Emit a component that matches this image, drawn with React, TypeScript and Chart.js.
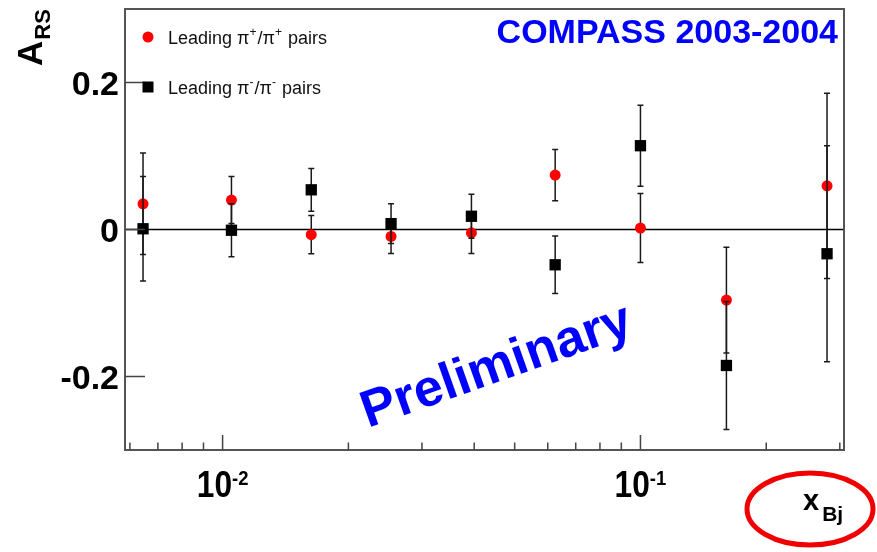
import React, { useEffect, useRef } from "react";
import { Chart, registerables } from "chart.js";

Chart.register(...registerables);

// ---- data ----
const xBj = [0.00645, 0.0105, 0.0163, 0.0253, 0.0394, 0.0625, 0.1, 0.1606, 0.2796];
const plusA = [0.035, 0.04, -0.007, -0.0095, -0.0045, 0.074, 0.002, -0.096, 0.0595];
const plusErr = [0.069, 0.032, 0.026, 0.023, 0.028, 0.035, 0.047, 0.072, 0.126];
const minusA = [0.001, -0.001, 0.054, 0.008, 0.018, -0.048, 0.114, -0.185, -0.033];
const minusErr = [0.071, 0.036, 0.029, 0.027, 0.03, 0.039, 0.055, 0.087, 0.147];

const yTicks = [-0.2, 0, 0.2];
const xMajorTicks = [0.01, 0.1];
const xMajorExp = ["-2", "-1"];
const xMinorTicks = [0.006, 0.007, 0.008, 0.009, 0.02, 0.03, 0.04, 0.05, 0.06, 0.07, 0.08, 0.09, 0.2, 0.3];
const X_MIN = 0.00584;
const X_MAX = 0.307;
const Y_MIN = -0.3;
const Y_MAX = 0.3;

const titleText = "COMPASS 2003-2004";
const watermark = "Preliminary";
const legendPlus = [
  { t: "Leading π", sup: false },
  { t: "+", sup: true },
  { t: "/π", sup: false },
  { t: "+", sup: true },
  { t: " pairs", sup: false },
];
const legendMinus = [
  { t: "Leading π", sup: false },
  { t: "-", sup: true },
  { t: "/π", sup: false },
  { t: "-", sup: true },
  { t: " pairs", sup: false },
];

const FONT = '"Liberation Sans", Arial, Helvetica, sans-serif';
const BLUE = "#0000ff";

function drawRich(ctx: CanvasRenderingContext2D, segs: { t: string; sup: boolean }[], x: number, y: number, size: number) {
  let cx = x;
  ctx.textAlign = "left";
  ctx.textBaseline = "alphabetic";
  for (const s of segs) {
    ctx.font = s.sup ? `${Math.round(size * 0.65)}px ${FONT}` : `${size}px ${FONT}`;
    ctx.fillText(s.t, cx, s.sup ? y - size * 0.42 : y);
    cx += ctx.measureText(s.t).width + (s.sup ? 1 : 0);
  }
}

const errorMap: Record<number, number[]> = { 0: plusErr, 1: minusErr };

const rootPlugin = {
  id: "rootStyle",
  beforeDatasetsDraw(chart: any) {
    const { ctx, chartArea } = chart;
    const ys = chart.scales.y;
    const y0 = ys.getPixelForValue(0);
    ctx.save();
    ctx.strokeStyle = "#000";
    ctx.lineWidth = 1.5;
    ctx.beginPath();
    ctx.moveTo(chartArea.left, y0);
    ctx.lineTo(chartArea.right, y0);
    ctx.stroke();
    ctx.restore();
  },
  beforeDatasetDraw(chart: any, args: any) {
    const { ctx } = chart;
    const xs = chart.scales.x;
    const ys = chart.scales.y;
    const ds = chart.data.datasets[args.index];
    const errs = errorMap[args.index];
    if (!errs) return;
    ctx.save();
    ctx.strokeStyle = "#1a1a1a";
    ctx.lineWidth = 1.5;
    ds.data.forEach((p: any, i: number) => {
      const px = xs.getPixelForValue(p.x);
      const top = ys.getPixelForValue(p.y + errs[i]);
      const bot = ys.getPixelForValue(p.y - errs[i]);
      ctx.beginPath();
      ctx.moveTo(px, top);
      ctx.lineTo(px, bot);
      ctx.moveTo(px - 3, top);
      ctx.lineTo(px + 3, top);
      ctx.moveTo(px - 3, bot);
      ctx.lineTo(px + 3, bot);
      ctx.stroke();
    });
    ctx.restore();
  },
  afterDraw(chart: any) {
    const { ctx, chartArea } = chart;
    const xs = chart.scales.x;
    const ys = chart.scales.y;
    const { left, right, top, bottom } = chartArea;
    ctx.save();

    // frame
    ctx.strokeStyle = "#555";
    ctx.lineWidth = 2;
    ctx.strokeRect(left, top, right - left, bottom - top);

    // x ticks (inside)
    ctx.strokeStyle = "#444";
    ctx.lineWidth = 1.5;
    ctx.beginPath();
    xMajorTicks.forEach((v) => {
      const px = xs.getPixelForValue(v);
      ctx.moveTo(px, bottom);
      ctx.lineTo(px, bottom - 15);
    });
    xMinorTicks.forEach((v) => {
      const px = xs.getPixelForValue(v);
      ctx.moveTo(px, bottom);
      ctx.lineTo(px, bottom - 7.5);
    });
    // y ticks
    yTicks.forEach((v) => {
      const py = ys.getPixelForValue(v);
      ctx.moveTo(left, py);
      ctx.lineTo(left + 20, py);
    });
    ctx.stroke();

    // x tick labels 10^n (narrow bold like ROOT helvetica)
    ctx.fillStyle = "#000";
    ctx.textBaseline = "alphabetic";
    ctx.textAlign = "left";
    const sx = 0.88;
    xMajorTicks.forEach((v, i) => {
      const px = xs.getPixelForValue(v);
      ctx.font = `bold 36px ${FONT}`;
      const w1 = ctx.measureText("10").width * sx;
      ctx.font = `bold 21px ${FONT}`;
      const w2 = ctx.measureText(xMajorExp[i]).width * sx;
      const x0 = px - (w1 + w2) / 2;
      ctx.save();
      ctx.translate(x0, 0);
      ctx.scale(sx, 1);
      ctx.font = `bold 36px ${FONT}`;
      ctx.fillText("10", 0, 497);
      ctx.font = `bold 21px ${FONT}`;
      ctx.fillText(xMajorExp[i], w1 / sx, 485);
      ctx.restore();
    });

    // x axis title
    ctx.font = `bold 29px ${FONT}`;
    ctx.fillText("x", 803, 510);
    const wx = ctx.measureText("x").width;
    ctx.font = `bold 21px ${FONT}`;
    ctx.fillText("Bj", 803 + wx + 3, 521);

    // red ellipse around axis title
    ctx.strokeStyle = "#f00000";
    ctx.lineWidth = 5;
    ctx.beginPath();
    ctx.ellipse(810, 509, 63, 36, 0, 0, Math.PI * 2);
    ctx.stroke();

    // y axis title A_RS (rotated)
    ctx.save();
    ctx.translate(42, 66);
    ctx.rotate(-Math.PI / 2);
    ctx.fillStyle = "#000";
    ctx.font = `bold 35px ${FONT}`;
    ctx.fillText("A", 0, 0);
    const wa = ctx.measureText("A").width;
    ctx.font = `bold 22px ${FONT}`;
    ctx.fillText("RS", wa + 1, 8);
    ctx.restore();

    // title
    ctx.fillStyle = BLUE;
    ctx.font = `bold 34px ${FONT}`;
    ctx.textAlign = "right";
    ctx.fillText(titleText, 838, 43);

    // legend
    ctx.textAlign = "left";
    ctx.fillStyle = "#ff0000";
    ctx.beginPath();
    ctx.arc(148, 37, 5.5, 0, Math.PI * 2);
    ctx.fill();
    ctx.fillStyle = "#000";
    ctx.fillRect(142.5, 81.5, 11, 11);
    ctx.fillStyle = "#111";
    drawRich(ctx, legendPlus, 168, 43.5, 18);
    drawRich(ctx, legendMinus, 168, 93.5, 18);

    // watermark
    ctx.save();
    ctx.translate(368, 428);
    ctx.rotate((-19.5 * Math.PI) / 180);
    ctx.fillStyle = BLUE;
    ctx.font = `bold 52px ${FONT}`;
    ctx.textAlign = "left";
    ctx.fillText(watermark, 0, 0);
    ctx.restore();

    ctx.restore();
  },
};

export default function App() {
  const ref = useRef<HTMLCanvasElement | null>(null);
  useEffect(() => {
    if (!ref.current) return;
    const chart = new Chart(ref.current, {
      type: "scatter",
      data: {
        datasets: [
          {
            label: "Leading π+/π+ pairs",
            data: xBj.map((x, i) => ({ x, y: plusA[i] })),
            pointStyle: "circle",
            pointRadius: 5.5,
            backgroundColor: "#ff0000",
            borderColor: "#ff0000",
            borderWidth: 0,
            order: 1,
            clip: false,
          },
          {
            label: "Leading π-/π- pairs",
            data: xBj.map((x, i) => ({ x, y: minusA[i] })),
            pointStyle: "rect",
            pointRadius: 8,
            backgroundColor: "#000",
            borderColor: "#000",
            borderWidth: 0,
            order: 0,
            clip: false,
          },
        ],
      },
      options: {
        responsive: false,
        animation: false,
        events: [],
        layout: { padding: { top: 9, right: 33, left: 0, bottom: 0 } },
        plugins: { legend: { display: false }, tooltip: { enabled: false }, title: { display: false } },
        scales: {
          x: {
            type: "logarithmic",
            min: X_MIN,
            max: X_MAX,
            grid: { display: false, drawTicks: false },
            border: { display: false },
            ticks: { display: false },
            afterFit: (s: any) => {
              s.height = 102;
              s.paddingLeft = 0;
              s.paddingRight = 0;
            },
          },
          y: {
            type: "linear",
            min: Y_MIN,
            max: Y_MAX,
            grid: { display: false, drawTicks: false },
            border: { display: false },
            afterBuildTicks: (s: any) => {
              s.ticks = yTicks.map((v) => ({ value: v }));
            },
            ticks: {
              color: "#000",
              padding: 6,
              labelOffset: 3,
              font: { family: FONT, size: 34, weight: "bold" },
              callback: (v: any) => String(Number(v)),
            },
            afterFit: (s: any) => {
              s.width = 125;
              s.paddingTop = 0;
              s.paddingBottom = 0;
            },
          },
        },
      },
      plugins: [rootPlugin],
    } as any);
    return () => chart.destroy();
  }, []);
  return (
    <div style={{ position: "absolute", left: 0, top: 0, width: 877, height: 552, background: "#fff" }}>
      <canvas ref={ref} width={877} height={552} style={{ display: "block" }} />
    </div>
  );
}
